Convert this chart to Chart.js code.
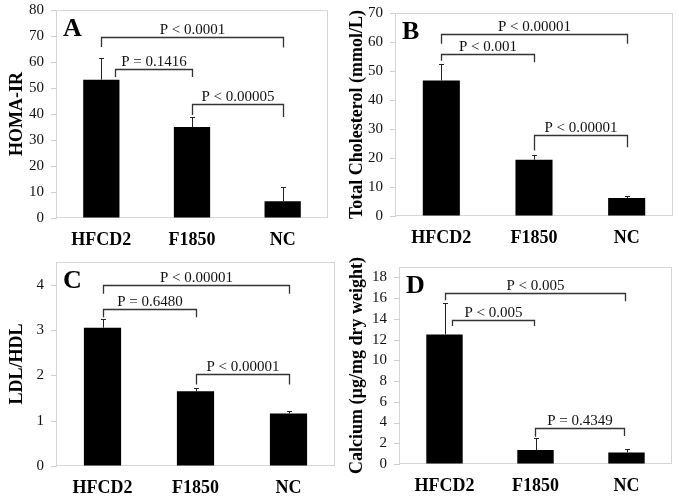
<!DOCTYPE html>
<html><head><meta charset="utf-8">
<script src="https://cdn.jsdelivr.net/npm/chart.js@4.4.1/dist/chart.umd.min.js"></script>
<style>
html,body{margin:0;padding:0;background:#fff;}
#wrap{position:relative;width:679px;height:497px;overflow:hidden;background:#fff;}
canvas{position:absolute;}
</style></head>
<body><div id="wrap">
<canvas id="cA" width="340" height="250" style="left:0;top:0"></canvas>
<canvas id="cB" width="339" height="250" style="left:340px;top:0"></canvas>
<canvas id="cC" width="340" height="247" style="left:0;top:250px"></canvas>
<canvas id="cD" width="339" height="247" style="left:340px;top:250px"></canvas>
</div>
<script>
// ---- data ----
const categories = ['HFCD2', 'F1850', 'NC'];

const homaMean = [53.2, 35.0, 6.4];
const homaErr  = [8.3, 3.8, 5.5];
const homaTicks = [0, 10, 20, 30, 40, 50, 60, 70, 80];
const homaBrackets = [
  {from: 0,    to: 2, y: 69.6, left: 65.8, right: 65.6, label: 'P < 0.0001'},
  {from: 0.15, to: 1, y: 57.3, left: 54.2, right: 54.2, label: 'P = 0.1416'},
  {from: 1,    to: 2, y: 43.8, left: 39.6, right: 38.8, label: 'P < 0.00005'}
];

const cholMean = [46.7, 19.4, 6.2];
const cholErr  = [5.8, 1.8, 0.7];
const cholTicks = [0, 10, 20, 30, 40, 50, 60, 70];
const cholBrackets = [
  {from: 0, to: 2, y: 62.8, left: 59.4, right: 59.4, label: 'P < 0.00001'},
  {from: 0, to: 1, y: 55.9, left: 53.5, right: 53.0, label: 'P < 0.001'},
  {from: 1, to: 2, y: 27.8, left: 22.6, right: 23.7, label: 'P < 0.00001'}
];

const ratioMean = [3.05, 1.65, 1.16];
const ratioErr  = [0.19, 0.06, 0.05];
const ratioTicks = [0, 1, 2, 3, 4];
const ratioBrackets = [
  {from: 0, to: 2, y: 3.99, left: 3.80, right: 3.80, label: 'P < 0.00001'},
  {from: 0, to: 1, y: 3.47, left: 3.28, right: 3.28, label: 'P = 0.6480'},
  {from: 1, to: 2, y: 2.02, left: 1.80, right: 1.80, label: 'P < 0.00001'}
];

const calciumMean = [12.5, 1.35, 1.12];
const calciumErr  = [3.0, 1.12, 0.29];
const calciumTicks = [0, 2, 4, 6, 8, 10, 12, 14, 16, 18];
const calciumBrackets = [
  {from: 0,    to: 1.98, y: 16.47, left: 15.8, right: 15.7, label: 'P < 0.005'},
  {from: 0.08, to: 0.98, y: 13.85, left: 13.3, right: 13.3, label: 'P < 0.005'},
  {from: 0.99, to: 1.97, y: 3.43,  left: 2.63, right: 2.70, label: 'P = 0.4349'}
];

// ---- drawing ----
const SERIF = '"Liberation Serif", "Times New Roman", Times, serif';
Chart.defaults.font.family = SERIF;

function makePanel(id, letter, title, means, errs, brackets, ticks, yMax, geom) {
  const overlay = {
    id: 'overlay_' + id,
    beforeDatasetsDraw(chart) {
      const {ctx, chartArea: a, scales: {y}} = chart;
      ctx.save();
      ctx.strokeStyle = '#d6d6d6';
      ctx.lineWidth = 1;
      ctx.strokeRect(Math.round(a.left) + 0.5, Math.round(a.top) + 0.5,
        Math.round(a.right - a.left) - 1, Math.round(a.bottom - a.top) - 1);
      // small outside tick marks
      ctx.strokeStyle = '#cfcfcf';
      ctx.beginPath();
      ticks.forEach(v => {
        const py = Math.round(y.getPixelForValue(v)) + 0.5;
        ctx.moveTo(Math.round(a.left) - 5, py);
        ctx.lineTo(Math.round(a.left), py);
      });
      ctx.stroke();
      ctx.restore();
    },
    afterDatasetsDraw(chart) {
      const {ctx, chartArea: a, scales: {x, y}} = chart;
      ctx.save();
      // error bars (upper only)
      ctx.strokeStyle = '#222';
      ctx.lineWidth = 1;
      means.forEach((m, i) => {
        const xc = Math.round(x.getPixelForValue(i)) + 0.5;
        const y0 = y.getPixelForValue(m);
        const y1 = Math.round(y.getPixelForValue(m + errs[i])) + 0.5;
        ctx.beginPath();
        ctx.moveTo(xc, y0);
        ctx.lineTo(xc, y1);
        ctx.moveTo(xc - 2.5, y1);
        ctx.lineTo(xc + 2.5, y1);
        ctx.stroke();
      });
      // significance brackets
      ctx.strokeStyle = '#333';
      ctx.lineWidth = 1.3;
      ctx.fillStyle = '#111';
      ctx.font = '15px ' + SERIF;
      ctx.textAlign = 'center';
      ctx.textBaseline = 'alphabetic';
      brackets.forEach(b => {
        const xa = Math.round(x.getPixelForValue(b.from)) + 0.5;
        const xb = Math.round(x.getPixelForValue(b.to)) + 0.5;
        const yb = Math.round(y.getPixelForValue(b.y)) + 0.5;
        const yl = y.getPixelForValue(b.left);
        const yr = y.getPixelForValue(b.right);
        ctx.beginPath();
        ctx.moveTo(xa, yl);
        ctx.lineTo(xa, yb);
        ctx.lineTo(xb, yb);
        ctx.lineTo(xb, yr);
        ctx.stroke();
        ctx.fillText(b.label, (xa + xb) / 2, yb - 4);
      });
      // panel letter
      ctx.textAlign = 'left';
      ctx.fillStyle = '#000';
      ctx.font = 'bold 26px ' + SERIF;
      ctx.fillText(letter, a.left + 7, a.top + 26);
      ctx.restore();
    }
  };

  return new Chart(document.getElementById(id), {
    type: 'bar',
    data: {
      labels: categories,
      datasets: [{
        data: means,
        backgroundColor: '#000',
        borderWidth: 0,
        categoryPercentage: 1.0,
        barPercentage: 0.4
      }]
    },
    options: {
      responsive: false,
      animation: false,
      layout: {padding: {left: 0, top: geom.top, right: geom.right, bottom: 0}},
      plugins: {legend: {display: false}, tooltip: {enabled: false}},
      scales: {
        x: {
          type: 'category',
          grid: {display: false, drawTicks: false},
          border: {display: false},
          ticks: {font: {family: SERIF, size: 18, weight: 'bold'}, color: '#000', padding: 12},
          afterFit: s => { s.height = geom.xh; }
        },
        y: {
          min: 0,
          max: yMax,
          afterBuildTicks: s => { s.ticks = ticks.map(v => ({value: v})); },
          ticks: {font: {family: SERIF, size: 15}, color: '#111', padding: 0},
          grid: {drawOnChartArea: false, drawTicks: true, tickLength: 12, tickColor: 'rgba(0,0,0,0)', color: 'rgba(0,0,0,0)'},
          border: {display: true, color: '#d6d6d6'},
          title: {display: true, text: title, font: {family: SERIF, size: 18, weight: 'bold'}, color: '#000', padding: {top: 7, bottom: 0}},
          afterFit: s => { s.width = geom.left; }
        }
      }
    },
    plugins: [overlay]
  });
}

makePanel('cA', 'A', 'HOMA-IR', homaMean, homaErr, homaBrackets, homaTicks, 80,
  {left: 56, top: 10, right: 12, xh: 32});
makePanel('cB', 'B', 'Total Cholesterol (mmol/L)', cholMean, cholErr, cholBrackets, cholTicks, 70,
  {left: 55, top: 13, right: 6, xh: 34});
makePanel('cC', 'C', 'LDL/HDL', ratioMean, ratioErr, ratioBrackets, ratioTicks, 4.5,
  {left: 56, top: 12, right: 5, xh: 31});
makePanel('cD', 'D', 'Calcium (µg/mg dry weight)', calciumMean, calciumErr, calciumBrackets, calciumTicks, 19,
  {left: 59, top: 17, right: 7, xh: 33});
</script>
</body></html>
